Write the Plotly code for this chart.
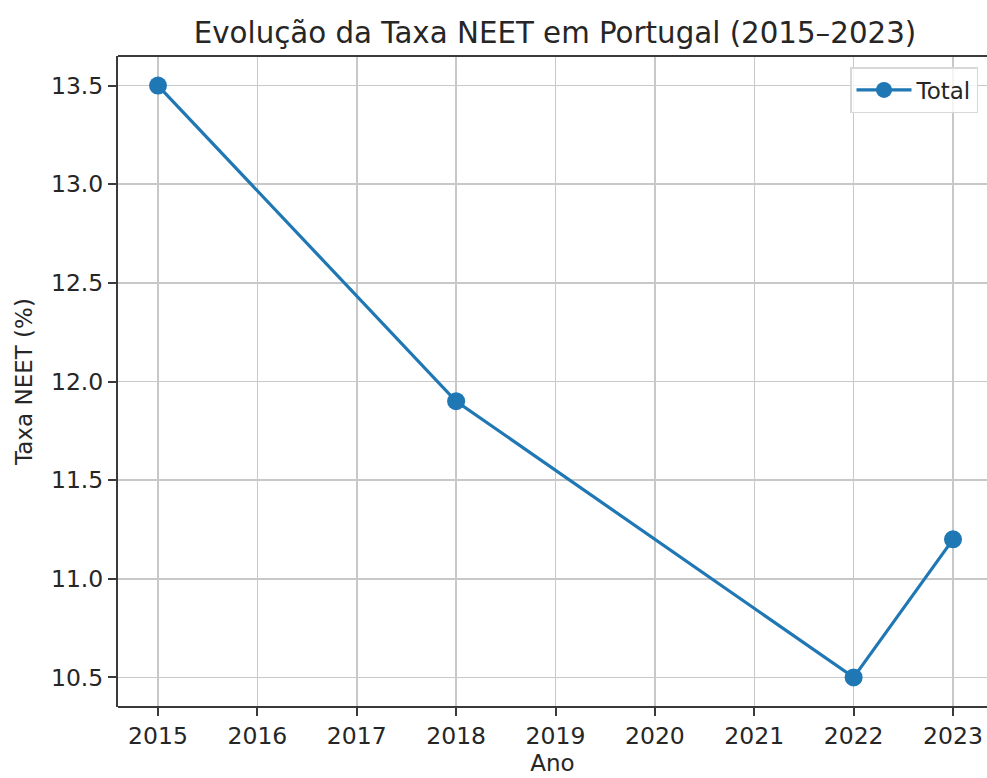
import plotly.graph_objects as go

anos = [2015, 2018, 2022, 2023]
taxa_neet = [13.5, 11.9, 10.5, 11.2]
x_ticks = [2015, 2016, 2017, 2018, 2019, 2020, 2021, 2022, 2023]
y_ticks = [10.5, 11.0, 11.5, 12.0, 12.5, 13.0, 13.5]

FONT = "DejaVu Sans"
TXT = "#262626"
fig = go.Figure()
fig.add_trace(go.Scatter(
    x=anos, y=taxa_neet, mode="lines+markers", name="Total",
    line=dict(color="#1f77b4", width=3.2),
    marker=dict(color="#1f77b4", size=18),
))

fig.update_layout(
    width=987, height=778,
    margin=dict(l=118, r=0, t=56, b=71),
    paper_bgcolor="white", plot_bgcolor="white",
    font=dict(family=FONT, size=23, color=TXT),
    title=dict(text="Evolução da Taxa NEET em Portugal (2015–2023)",
               x=555 / 987, xanchor="center",
               y=1 - 33 / 778, yanchor="middle",
               font=dict(family=FONT, size=29.3, color=TXT)),
    showlegend=True,
    legend=dict(x=(978 - 118) / 869, xanchor="right", y=1 - (67 - 56) / 651, yanchor="top",
                itemwidth=55,
                bgcolor="rgba(255,255,255,0.8)", bordercolor="#d8d8d8",
                borderwidth=1.5, font=dict(family=FONT, size=23, color=TXT)),
    xaxis=dict(
        range=[2014.5975, 2023.342], tickvals=x_ticks,
        ticktext=[str(v) for v in x_ticks],
        showgrid=True, gridcolor="#c8c8c8", gridwidth=1.5,
        showline=False, zeroline=False,
        ticks="outside", ticklen=8, tickwidth=2, tickcolor="#3a3a3a",
        tickfont=dict(size=23.5),
        title=dict(text="Ano", font=dict(family=FONT, size=23, color=TXT), standoff=4),
    ),
    yaxis=dict(
        range=[10.35, 13.65], tickvals=y_ticks,
        ticktext=[f"{v:.1f}" for v in y_ticks],
        showgrid=True, gridcolor="#c8c8c8", gridwidth=1.5,
        showline=True, linecolor="#3a3a3a", linewidth=2, mirror=False,
        ticks="outside", ticklen=8, tickwidth=2, tickcolor="#3a3a3a",
        zeroline=False, tickfont=dict(size=23.5),
        title=dict(text="Taxa NEET (%)", font=dict(family=FONT, size=23, color=TXT), standoff=12),
    ),
)

# bottom and top spines drawn as axis-domain lines
fig.add_shape(type="line", xref="x domain", yref="y domain", x0=0, x1=1, y0=0, y1=0,
              line=dict(color="#3a3a3a", width=2))
fig.add_shape(type="line", xref="x domain", yref="y domain", x0=0, x1=1, y0=1, y1=1,
              line=dict(color="#3a3a3a", width=2))

fig.write_html(
    "out.html",
    config={"displayModeBar": False, "staticPlot": True},
    post_script="document.body.style.margin='0';document.body.style.overflow='hidden';",
)
